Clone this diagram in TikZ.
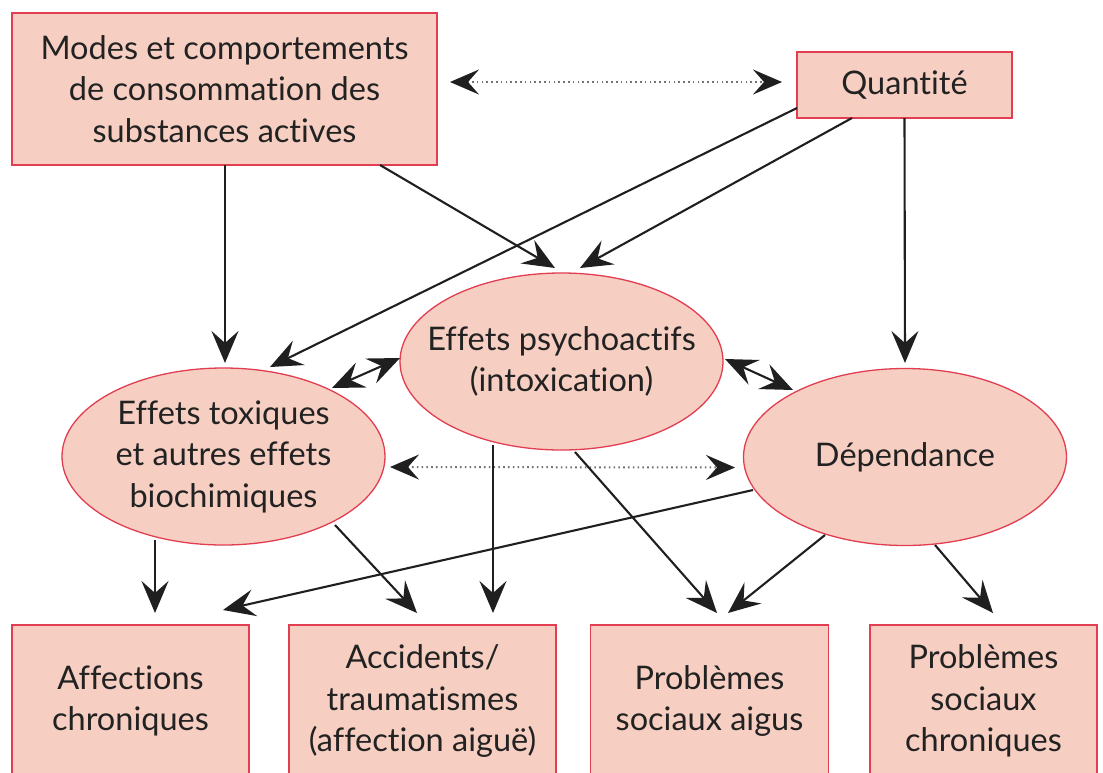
\documentclass[tikz,border=0pt]{standalone}
\usepackage{fontspec}
\setmainfont{Lato}[Ligatures={NoCommon,NoDiscretionary}]
\usetikzlibrary{arrows.meta,calc,shapes.geometric}
\definecolor{boxfill}{RGB}{246,207,194}
\definecolor{boxdraw}{RGB}{226,62,82}
\definecolor{txt}{RGB}{34,34,34}
\begin{document}
\begin{tikzpicture}[x=1pt,y=-1pt,
  txtfont/.style={text=txt, font=\fontsize{32.5}{41.5}\selectfont},
  box/.style={rectangle, draw=boxdraw, fill=boxfill, line width=1.6pt, align=center, inner sep=0pt, txtfont},
  ell/.style={ellipse, draw=boxdraw, fill=boxfill, line width=1.3pt, minimum width=323pt, minimum height=177pt, inner sep=-80pt, align=center, txtfont},
  arr/.style={-{Stealth[length=32pt,width=27pt,inset=12pt]}, line width=2.1pt, draw=black!88, fill=black!88},
  darr/.style={{Stealth[length=32pt,width=27pt,inset=12pt]}-{Stealth[length=32pt,width=27pt,inset=12pt]}, line width=2.1pt, draw=black!88, fill=black!88},
  dotarr/.style={line width=2pt, draw=black!55, dash pattern=on 1.6pt off 3.2pt,
     arrows={Stealth[length=29pt,width=25pt,inset=11pt,black!88]-Stealth[length=29pt,width=25pt,inset=11pt,black!88]}}
]
\useasboundingbox (0,0) rectangle (1103,772);
\clip (0,0) rectangle (1103,772);
\fill[white] (0,0) rectangle (1103,772);

% top boxes
\node[box, minimum width=425pt, minimum height=152pt] (modes) at (224.5,89)
  {Modes et comportements\\de consommation des\\substances actives};
\node[box, minimum width=215pt, minimum height=66pt] (quant) at (904.5,85) {Quantité};

% ellipses
\node[ell] (psy) at (561.5,361.5) {Effets psychoactifs\\(intoxication)};
\node[ell] (tox) at (223.5,456.5) {Effets toxiques\\et autres effets\\biochimiques};
\node[ell] (dep) at (905,457) {Dépendance};

% bottom boxes
\node[box, minimum width=237pt, minimum height=152pt] (b1) at (130.5,701) {Affections\\chroniques};
\node[box, minimum width=267pt, minimum height=152pt] (b2) at (422.5,701) {Accidents/\\traumatismes\\(affection aiguë)};
\node[box, minimum width=238pt, minimum height=152pt] (b3) at (709.5,701) {Problèmes\\sociaux aigus};
\node[box, minimum width=227pt, minimum height=152pt] (b4) at (983.5,701) {Problèmes\\sociaux\\chroniques};

% dotted double arrows
\draw[dotarr] ($(modes.center)+(225.5,-7)$) -- ($(quant.center)+(-122.5,-3)$);
\draw[dotarr] ($(tox.center)+(166.5,10.5)$) -- ($(dep.center)+(-170,10.5)$);

% solid arrows
\draw[arr] ($(modes.center)+(0.5,76)$) -- ($(tox.center)+(1.5,-93.5)$);
\draw[arr] ($(modes.center)+(155.5,76)$) -- ($(psy.center)+(-6.5,-93.5)$);
\draw[arr] ($(quant.center)+(-107.5,23)$) -- ($(tox.center)+(46.5,-89.5)$);
\draw[arr] ($(quant.center)+(-52.5,33)$) -- ($(psy.center)+(18.5,-93.5)$);
\draw[arr] ($(quant.center)+(0,33)$) -- ($(dep.center)+(0,-94)$);

\draw[darr] ($(tox.center)+(108.5,-68.5)$) -- ($(psy.center)+(-161.5,-3.5)$);
\draw[darr] ($(psy.center)+(163.5,-2.5)$) -- ($(dep.center)+(-112,-67)$);

\draw[arr] ($(tox.center)+(-68.5,83.5)$) -- ($(b1.center)+(24.5,-88)$);
\draw[arr] ($(tox.center)+(111.5,68.5)$) -- ($(b2.center)+(-5.5,-88)$);
\draw[arr] ($(psy.center)+(-68.5,83.5)$) -- ($(b2.center)+(70.5,-88)$);
\draw[arr] ($(psy.center)+(13.5,90.5)$) -- ($(b3.center)+(7.5,-88)$);
\draw[arr] ($(dep.center)+(-152,33)$) -- ($(b1.center)+(92.5,-91)$);
\draw[arr] ($(dep.center)+(-80,78)$) -- ($(b3.center)+(18.5,-88)$);
\draw[arr] ($(dep.center)+(30,88)$) -- ($(b4.center)+(9.5,-88)$);
\end{tikzpicture}
\end{document}
